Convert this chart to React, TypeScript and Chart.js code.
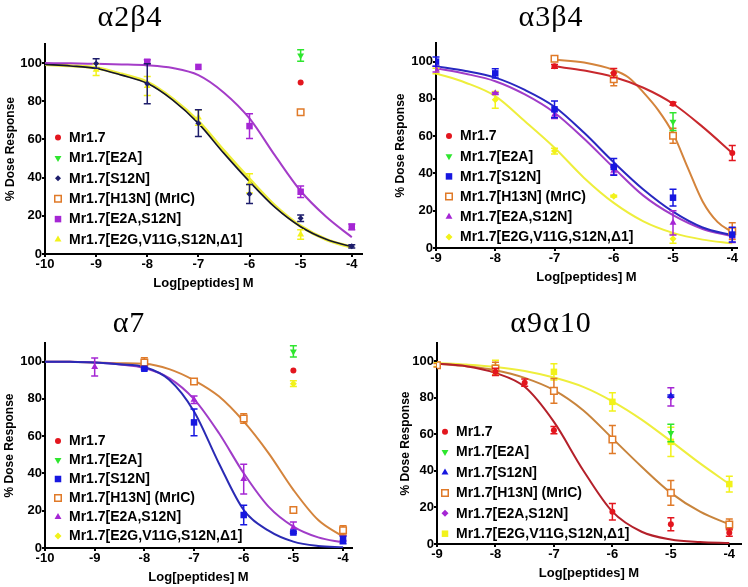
import React, { useEffect, useRef } from "react";
import { Chart, registerables } from "chart.js";

Chart.register(...registerables);

const SANS = "Arial, 'Liberation Sans', Helvetica, sans-serif";
const SERIF = "'Times New Roman', 'Liberation Serif', Times, serif";

// ---------- text ----------
const LABELS = ["Mr1.7", "Mr1.7[E2A]", "Mr1.7[S12N]", "Mr1.7[H13N] (MrIC)", "Mr1.7[E2A,S12N]", "Mr1.7[E2G,V11G,S12N,Δ1]"];
const TITLES = ["α2β4", "α3β4", "α7", "α9α10"];
const X_TITLE = "Log[peptides] M";
const Y_TITLE = "% Dose Response";
const Y_TICKS = [0, 20, 40, 60, 80, 100];
const X_TICKS_WIDE = [-10, -9, -8, -7, -6, -5, -4];
const X_TICKS_NARROW = [-9, -8, -7, -6, -5, -4];

// ---------- panel A: α2β4 ----------
const A_MR17_X = [-5], A_MR17_Y = [89.8], A_MR17_E = [0];
const A_E2A_X = [-5], A_E2A_Y = [104], A_E2A_E = [3];
const A_S12N_X = [-9, -8, -7, -6, -5, -4], A_S12N_Y = [99.8, 89.2, 68.5, 31.4, 18.7, 4], A_S12N_E = [2.5, 10.5, 7, 5, 1.7, 0.8];
const A_H13N_X = [-5], A_H13N_Y = [74.2], A_H13N_E = [0];
const A_E2AS12N_X = [-8, -7, -6, -5, -4], A_E2AS12N_Y = [100.7, 98, 67, 32.6, 14.2], A_E2AS12N_E = [1, 0, 6.5, 3, 1.5];
const A_E2G_X = [-9, -8, -7, -6, -5], A_E2G_Y = [96.5, 88, 71.5, 37, 10.2], A_E2G_E = [3, 5, 4, 5, 2.5];
const A_FIT_X = [-10, -9.5, -9, -8.5, -8, -7.5, -7, -6.5, -6, -5.5, -5, -4.5, -4];
const A_FIT_S12N = [99.3, 98.5, 97.2, 93.7, 89.4, 80.6, 68.4, 52.7, 37.9, 24.4, 14.3, 7.7, 3.8];
const A_FIT_E2G = [99.3, 98.6, 97.5, 94.2, 90, 81.2, 69.5, 54, 39.2, 25.2, 14.6, 7.6, 3.5];
const A_FIT_E2AS12N = [100, 99.9, 99.6, 99.3, 98.8, 97.4, 93.7, 84.5, 71, 51.5, 33, 19.5, 8.8];

// ---------- panel B: α3β4 ----------
const B_MR17_X = [-7, -6, -5, -4], B_MR17_Y = [97.5, 93.8, 77.4, 51], B_MR17_E = [1, 2.5, 0.8, 4];
const B_E2A_X = [-5], B_E2A_Y = [67.8], B_E2A_E = [4.8];
const B_S12N_X = [-9, -8, -7, -6, -5, -4], B_S12N_Y = [100, 93.7, 74.4, 43.5, 27, 7.2], B_S12N_E = [2.5, 2.5, 4.5, 4.5, 4.5, 4];
const B_H13N_X = [-7, -6, -5, -4], B_H13N_Y = [101.5, 90.5, 60.2, 9], B_H13N_E = [0.5, 3.5, 4, 4.5];
const B_E2AS12N_X = [-9, -8, -7, -6, -5, -4], B_E2AS12N_Y = [96, 83, 71.5, 41.5, 13.5, 6], B_E2AS12N_E = [1.5, 0.5, 2, 2, 6.5, 3];
const B_E2G_X = [-9, -8, -7, -6, -5], B_E2G_Y = [95, 79.5, 52, 27.8, 5], B_E2G_E = [1.5, 4.5, 1.5, 0.5, 2.5];
const B_FIT_X = [-9, -8.5, -8, -7.5, -7, -6.5, -6, -5.5, -5, -4.5, -4];
const B_FIT_S12N = [97.5, 95, 91.4, 84.8, 75.8, 61.8, 46, 31.4, 19.5, 11, 6.8];
const B_FIT_E2AS12N = [96.5, 93.5, 89.5, 82.4, 72.6, 58.6, 43, 28.1, 17.6, 10.2, 6.3];
const B_FIT_E2G = [93.7, 88.7, 81.5, 68, 53.8, 37.6, 24.2, 14.3, 8.1, 4.5, 2.5];
const B_FIT_MR17_X = [-7, -6.5, -6, -5.5, -5, -4.5, -4];
const B_FIT_MR17 = [97.5, 95.2, 91.8, 86, 77.4, 65, 51];
const B_FIT_H13N_X = [-7, -6.5, -6, -5.75, -5.5, -5.25, -5, -4.75, -4.5, -4.25, -4];
const B_FIT_H13N = [101, 99.5, 95.5, 91.5, 83.5, 74, 61.5, 43, 25, 14, 8.5];

// ---------- panel C: α7 ----------
const C_MR17_X = [-5], C_MR17_Y = [95.2], C_MR17_E = [0];
const C_E2A_X = [-5], C_E2A_Y = [105.5], C_E2A_E = [3];
const C_S12N_X = [-8, -7, -6, -5, -4], C_S12N_Y = [96.2, 67.4, 17.7, 8.3, 4.3], C_S12N_E = [0.5, 7.2, 5.2, 0.5, 2];
const C_H13N_X = [-8, -7, -6, -5, -4], C_H13N_Y = [99.6, 89.4, 69.5, 20.4, 9.5], C_H13N_E = [2.5, 1, 2.5, 0.5, 2.5];
const C_E2AS12N_X = [-9, -8, -7, -6, -5, -4], C_E2AS12N_Y = [97.1, 96.5, 79.6, 37, 11, 5.2], C_E2AS12N_E = [4.8, 0.5, 2, 8, 3, 1.5];
const C_E2G_X = [-5], C_E2G_Y = [88.2], C_E2G_E = [1.5];
const C_FIT_X = [-10, -9.5, -9, -8.5, -8, -7.5, -7, -6.5, -6, -5.5, -5, -4.5, -4];
const C_FIT_S12N = [100, 99.9, 99.6, 98.6, 97.1, 90.3, 73.3, 45.5, 20.4, 9.3, 3.4, 1.1, 0.4];
const C_FIT_E2AS12N = [100, 99.9, 99.5, 98.5, 96.6, 91.2, 79.9, 61.7, 40.1, 22.2, 11.5, 5.7, 3];
const C_FIT_H13N = [100, 99.9, 99.6, 99.2, 98.9, 96, 90, 81.4, 67.9, 50.9, 31.2, 15, 6.1];

// ---------- panel D: α9α10 ----------
const D_MR17_X = [-8, -7.5, -7, -6, -5, -4], D_MR17_Y = [94.2, 88.3, 62.3, 17.7, 10.8, 6.2], D_MR17_E = [2, 2, 2, 4.5, 3.5, 2];
const D_E2A_X = [-5], D_E2A_Y = [60.8], D_E2A_E = [4.8];
const D_S12N_X = [-5], D_S12N_Y = [81], D_S12N_E = [0.5];
const D_H13N_X = [-9, -8, -7, -6, -5, -4], D_H13N_Y = [97.8, 96, 83.8, 57.2, 28, 10.7], D_H13N_E = [1, 3.5, 6.8, 7.7, 6.8, 3];
const D_E2AS12N_X = [-5], D_E2AS12N_Y = [80.5], D_E2AS12N_E = [5];
const D_E2G_X = [-9, -8, -7, -6, -5, -4], D_E2G_Y = [98.2, 96.5, 94.2, 77.8, 55.9, 32.8], D_E2G_E = [1, 4, 4.5, 5, 8, 4.3];
const D_FIT_X = [-9, -8.5, -8, -7.5, -7, -6.5, -6, -5.5, -5, -4.5, -4];
const D_FIT_MR17 = [98.7, 97.3, 93.6, 86, 66.8, 40.4, 17.7, 6.7, 2.5, 1.1, 0.5];
const D_FIT_H13N = [98.7, 97.3, 95.1, 90.9, 84.2, 73.2, 57.8, 42.3, 28, 17.7, 10.7];
const D_FIT_E2G = [99.1, 98.2, 96.9, 94.7, 91.1, 86, 78.1, 68.1, 56.3, 44.1, 32.8];

// ---------- styles ----------
const RED = "#e3161e", GREEN = "#2ee62e", NAVY = "#1d1d6b", BLUE = "#1717e0";
const ORANGE = "#e07a28", PURPLE = "#a526d4", YELLOW = "#f2f21a";

type Mk = { color: string; fill: string; shape: string; rot: number; r: number; bw: number };
const circle = (c: string): Mk => ({ color: c, fill: c, shape: "circle", rot: 0, r: 3, bw: 0 });
const triDown = (c: string): Mk => ({ color: c, fill: c, shape: "triangle", rot: 180, r: 4, bw: 0 });
const triUp = (c: string): Mk => ({ color: c, fill: c, shape: "triangle", rot: 0, r: 4, bw: 0 });
const square = (c: string): Mk => ({ color: c, fill: c, shape: "rect", rot: 0, r: 4.6, bw: 0 });
const openSquare = (c: string): Mk => ({ color: c, fill: "#ffffff", shape: "rect", rot: 0, r: 4.6, bw: 1.5 });
const diamond = (c: string, r = 3.5): Mk => ({ color: c, fill: c, shape: "rectRot", rot: 0, r, bw: 0 });

type Pts = { mk: Mk; x: number[]; y: number[]; e: number[] };
type Fit = { color: string; w: number; x: number[]; y: number[] };
type Panel = {
  title: string; tx: number; ty: number;
  left: number; top: number; w: number; h: number;
  pad: { left: number; top: number; right: number; bottom: number };
  yw: number; xh: number; xmin: number; xmax: number; xticks: number[];
  lg: { x: number; y: number; gap: number };
  pts: Pts[]; fits: Fit[];
};

const PANELS: Panel[] = [
  {
    title: TITLES[0], tx: 130, ty: 16, left: 0, top: 0, w: 374, h: 291,
    pad: { left: 3, top: 44, right: 12, bottom: 0 }, yw: 42, xh: 37,
    xmin: -10, xmax: -3.8, xticks: X_TICKS_WIDE, lg: { x: 58, y: 137.5, gap: 20.4 },
    pts: [
      { mk: circle(RED), x: A_MR17_X, y: A_MR17_Y, e: A_MR17_E },
      { mk: triDown(GREEN), x: A_E2A_X, y: A_E2A_Y, e: A_E2A_E },
      { mk: diamond(NAVY, 3), x: A_S12N_X, y: A_S12N_Y, e: A_S12N_E },
      { mk: openSquare(ORANGE), x: A_H13N_X, y: A_H13N_Y, e: A_H13N_E },
      { mk: square(PURPLE), x: A_E2AS12N_X, y: A_E2AS12N_Y, e: A_E2AS12N_E },
      { mk: triUp(YELLOW), x: A_E2G_X, y: A_E2G_Y, e: A_E2G_E },
    ],
    fits: [
      { color: "#14142e", w: 1.6, x: A_FIT_X, y: A_FIT_S12N },
      { color: "#a43cc8", w: 2, x: A_FIT_X, y: A_FIT_E2AS12N },
      { color: "#eeee3c", w: 3.2, x: A_FIT_X, y: A_FIT_E2G },
    ],
  },
  {
    title: TITLES[1], tx: 551, ty: 16, left: 374, top: 0, w: 374, h: 290,
    pad: { left: 19, top: 43, right: 11, bottom: 5 }, yw: 43, xh: 37,
    xmin: -9, xmax: -3.92, xticks: X_TICKS_NARROW, lg: { x: 75, y: 136, gap: 20.2 },
    pts: [
      { mk: circle(RED), x: B_MR17_X, y: B_MR17_Y, e: B_MR17_E },
      { mk: triDown(GREEN), x: B_E2A_X, y: B_E2A_Y, e: B_E2A_E },
      { mk: square(BLUE), x: B_S12N_X, y: B_S12N_Y, e: B_S12N_E },
      { mk: openSquare(ORANGE), x: B_H13N_X, y: B_H13N_Y, e: B_H13N_E },
      { mk: triUp(PURPLE), x: B_E2AS12N_X, y: B_E2AS12N_Y, e: B_E2AS12N_E },
      { mk: diamond(YELLOW), x: B_E2G_X, y: B_E2G_Y, e: B_E2G_E },
    ],
    fits: [
      { color: "#c8282d", w: 2, x: B_FIT_MR17_X, y: B_FIT_MR17 },
      { color: "#d4843c", w: 2, x: B_FIT_H13N_X, y: B_FIT_H13N },
      { color: "#2828c0", w: 2, x: B_FIT_X, y: B_FIT_S12N },
      { color: "#a03cc8", w: 2, x: B_FIT_X, y: B_FIT_E2AS12N },
      { color: "#eeee3c", w: 2, x: B_FIT_X, y: B_FIT_E2G },
    ],
  },
  {
    title: TITLES[2], tx: 129, ty: 322, left: 0, top: 290, w: 374, h: 297,
    pad: { left: 2, top: 53, right: 22, bottom: 2 }, yw: 43, xh: 37,
    xmin: -10, xmax: -3.82, xticks: X_TICKS_WIDE, lg: { x: 58, y: 151, gap: 19 },
    pts: [
      { mk: circle(RED), x: C_MR17_X, y: C_MR17_Y, e: C_MR17_E },
      { mk: triDown(GREEN), x: C_E2A_X, y: C_E2A_Y, e: C_E2A_E },
      { mk: square(BLUE), x: C_S12N_X, y: C_S12N_Y, e: C_S12N_E },
      { mk: openSquare(ORANGE), x: C_H13N_X, y: C_H13N_Y, e: C_H13N_E },
      { mk: triUp(PURPLE), x: C_E2AS12N_X, y: C_E2AS12N_Y, e: C_E2AS12N_E },
      { mk: diamond(YELLOW), x: C_E2G_X, y: C_E2G_Y, e: C_E2G_E },
    ],
    fits: [
      { color: "#2a2ab4", w: 2, x: C_FIT_X, y: C_FIT_S12N },
      { color: "#a03cc8", w: 2, x: C_FIT_X, y: C_FIT_E2AS12N },
      { color: "#d4843c", w: 2, x: C_FIT_X, y: C_FIT_H13N },
    ],
  },
  {
    title: TITLES[3], tx: 551, ty: 322, left: 374, top: 290, w: 374, h: 297,
    pad: { left: 24, top: 53, right: 7, bottom: 6 }, yw: 39, xh: 37,
    xmin: -9, xmax: -3.8, xticks: X_TICKS_NARROW, lg: { x: 71, y: 141.7, gap: 20.4 },
    pts: [
      { mk: circle(RED), x: D_MR17_X, y: D_MR17_Y, e: D_MR17_E },
      { mk: triDown(GREEN), x: D_E2A_X, y: D_E2A_Y, e: D_E2A_E },
      { mk: triUp(BLUE), x: D_S12N_X, y: D_S12N_Y, e: D_S12N_E },
      { mk: openSquare(ORANGE), x: D_H13N_X, y: D_H13N_Y, e: D_H13N_E },
      { mk: diamond(PURPLE), x: D_E2AS12N_X, y: D_E2AS12N_Y, e: D_E2AS12N_E },
      { mk: square(YELLOW), x: D_E2G_X, y: D_E2G_Y, e: D_E2G_E },
    ],
    fits: [
      { color: "#b4202a", w: 2, x: D_FIT_X, y: D_FIT_MR17 },
      { color: "#c8843c", w: 2, x: D_FIT_X, y: D_FIT_H13N },
      { color: "#eeee3c", w: 2, x: D_FIT_X, y: D_FIT_E2G },
    ],
  },
];

function drawMarker(ctx: CanvasRenderingContext2D, m: Mk, x: number, y: number) {
  const r = m.r;
  ctx.save();
  ctx.beginPath();
  if (m.shape === "circle") {
    ctx.arc(x, y, r, 0, Math.PI * 2);
  } else if (m.shape === "triangle") {
    let rad = (m.rot * Math.PI) / 180;
    ctx.moveTo(x + Math.sin(rad) * r, y - Math.cos(rad) * r);
    rad += (2 * Math.PI) / 3;
    ctx.lineTo(x + Math.sin(rad) * r, y - Math.cos(rad) * r);
    rad += (2 * Math.PI) / 3;
    ctx.lineTo(x + Math.sin(rad) * r, y - Math.cos(rad) * r);
    ctx.closePath();
  } else if (m.shape === "rect") {
    const h = r * Math.SQRT1_2;
    ctx.rect(x - h, y - h, 2 * h, 2 * h);
  } else {
    ctx.moveTo(x - r, y);
    ctx.lineTo(x, y - r);
    ctx.lineTo(x + r, y);
    ctx.lineTo(x, y + r);
    ctx.closePath();
  }
  ctx.fillStyle = m.fill;
  ctx.fill();
  if (m.bw > 0) {
    ctx.lineWidth = m.bw;
    ctx.strokeStyle = m.color;
    ctx.stroke();
  }
  ctx.restore();
}

const errorBarPlugin = {
  id: "errbars",
  beforeDatasetDraw(chart: any, args: any) {
    const ds: any = chart.data.datasets[args.index];
    if (!ds.errors) return;
    const meta = chart.getDatasetMeta(args.index);
    const ys = chart.scales.y;
    const ctx: CanvasRenderingContext2D = chart.ctx;
    ctx.save();
    ctx.strokeStyle = ds.errColor;
    ctx.lineWidth = 1.5;
    meta.data.forEach((el: any, i: number) => {
      const e = ds.errors[i];
      if (!e) return;
      const v = ds.data[i].y;
      const x = el.x;
      const t = ys.getPixelForValue(v + e);
      const b = ys.getPixelForValue(v - e);
      ctx.beginPath();
      ctx.moveTo(x, t); ctx.lineTo(x, b);
      ctx.moveTo(x - 3.5, t); ctx.lineTo(x + 3.5, t);
      ctx.moveTo(x - 3.5, b); ctx.lineTo(x + 3.5, b);
      ctx.stroke();
    });
    ctx.restore();
  },
};

function makeLegendPlugin(p: Panel) {
  return {
    id: "inlegend",
    afterDraw(chart: any) {
      const ctx: CanvasRenderingContext2D = chart.ctx;
      ctx.save();
      ctx.font = `bold 14px ${SANS}`;
      ctx.textBaseline = "middle";
      ctx.textAlign = "left";
      LABELS.forEach((lab, i) => {
        const y = p.lg.y + i * p.lg.gap;
        drawMarker(ctx, p.pts[i].mk, p.lg.x, y);
        ctx.fillStyle = "#000";
        ctx.fillText(lab, p.lg.x + 11, y + 0.5);
      });
      ctx.restore();
    },
  };
}

function buildConfig(p: Panel): any {
  const datasets: any[] = [];
  p.fits.forEach((f, i) => {
    datasets.push({
      type: "scatter",
      data: f.x.map((x, k) => ({ x, y: f.y[k] })),
      showLine: true,
      borderColor: f.color,
      borderWidth: f.w,
      pointRadius: 0,
      pointHoverRadius: 0,
      cubicInterpolationMode: "monotone",
      fill: false,
      order: 10 + i,
    });
  });
  p.pts.forEach((s, i) => {
    datasets.push({
      type: "scatter",
      data: s.x.map((x, k) => ({ x, y: s.y[k] })),
      errors: s.e,
      errColor: s.mk.color,
      showLine: false,
      pointStyle: s.mk.shape,
      pointRotation: s.mk.rot,
      pointRadius: s.mk.r,
      pointHoverRadius: s.mk.r,
      pointBackgroundColor: s.mk.fill,
      pointBorderColor: s.mk.color,
      pointBorderWidth: s.mk.bw,
      order: 1 + i * 0.01,
    });
  });
  const tickFont = { family: SANS, size: 13, weight: "bold" };
  return {
    type: "scatter",
    data: { datasets },
    options: {
      responsive: false,
      animation: false,
      events: [],
      layout: { padding: p.pad },
      plugins: { legend: { display: false }, tooltip: { enabled: false } },
      scales: {
        x: {
          type: "linear",
          min: p.xmin,
          max: p.xmax,
          afterBuildTicks: (s: any) => { s.ticks = p.xticks.map((v) => ({ value: v })); },
          ticks: { color: "#000", font: tickFont, padding: 0, maxRotation: 0, autoSkip: false },
          grid: { display: true, drawOnChartArea: false, drawTicks: true, tickLength: 3, color: "#000", lineWidth: 2 },
          border: { display: true, color: "#000", width: 2 },
          title: { display: true, text: X_TITLE, color: "#000", font: { family: SANS, size: 13, weight: "bold" }, padding: { top: 0, bottom: 0 } },
          afterFit: (s: any) => { s.height = p.xh; },
        },
        y: {
          type: "linear",
          min: 0,
          max: 110,
          afterBuildTicks: (s: any) => { s.ticks = Y_TICKS.map((v) => ({ value: v })); },
          ticks: { color: "#000", font: tickFont, padding: 0 },
          grid: { display: true, drawOnChartArea: false, drawTicks: true, tickLength: 3, color: "#000", lineWidth: 2 },
          border: { display: true, color: "#000", width: 2 },
          title: { display: true, text: Y_TITLE, color: "#000", font: { family: SANS, size: 12, weight: "bold" }, padding: { top: 0, bottom: 0 } },
          afterFit: (s: any) => { s.width = p.yw; },
        },
      },
    },
    plugins: [errorBarPlugin, makeLegendPlugin(p)],
  };
}

function PanelChart({ p }: { p: Panel }) {
  const ref = useRef<HTMLCanvasElement>(null);
  useEffect(() => {
    const chart = new Chart(ref.current as HTMLCanvasElement, buildConfig(p));
    return () => chart.destroy();
  }, [p]);
  return (
    <>
      <canvas
        ref={ref}
        width={p.w}
        height={p.h}
        style={{ position: "absolute", left: p.left, top: p.top, width: p.w, height: p.h }}
      />
      <div
        style={{
          position: "absolute",
          left: p.tx,
          top: p.ty,
          transform: "translate(-50%, -50%)",
          font: `30px ${SERIF}`,
          letterSpacing: "1px",
          lineHeight: 1,
          whiteSpace: "nowrap",
          color: "#000",
        }}
      >
        {p.title}
      </div>
    </>
  );
}

export default function App() {
  return (
    <div style={{ position: "fixed", left: 0, top: 0, width: 748, height: 587, background: "#fff", overflow: "hidden" }}>
      {PANELS.map((p, i) => (
        <PanelChart key={i} p={p} />
      ))}
    </div>
  );
}
